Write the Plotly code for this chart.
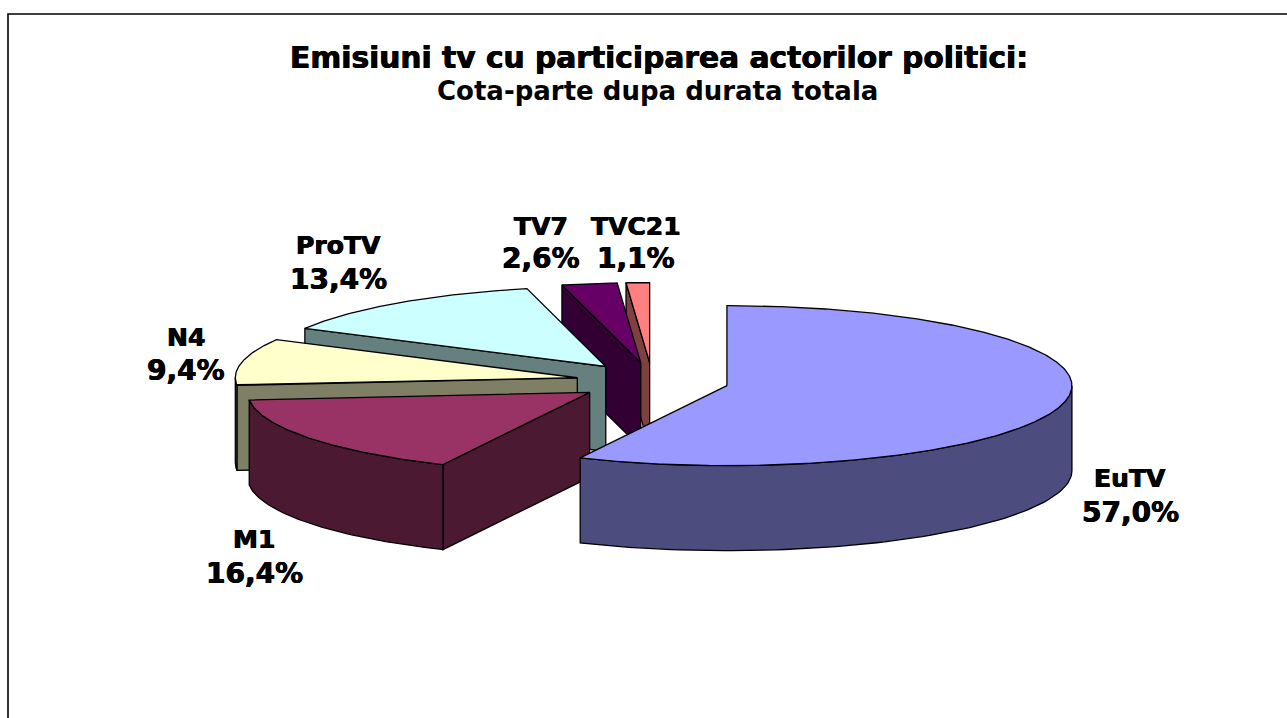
import numpy as np
import plotly.graph_objects as go

# --- data ---
categories = ["EuTV", "M1", "N4", "ProTV", "TV7", "TVC21"]
shares = [57.0, 16.4, 9.4, 13.4, 2.6, 1.1]
title_line = "Emisiuni tv cu participarea actorilor politici:"
subtitle_line = "Cota-parte dupa durata totala"

# --- style / geometry of the 3D pie ---
top_colors = ["#9999FF", "#993366", "#FFFFCC", "#CCFFFF", "#660066", "#FF8080"]
side_colors = ["#4C4C7F", "#4C1933", "#7F7F66", "#667F7F", "#330033", "#7F4040"]
CX, CY = 652.3, 381.5   # pie centre before explosion (page pixels)
RX_RIGHT, RX_LEFT, RY = 345.0, 342.0, 80.0    # ellipse radii
DEPTH = 85.0
EXPLODE_X, EXPLODE_Y = 76.5, 18.9
label_pos = [(1130, 478, 512), (254, 539, 573), (186, 337, 370),
             (338, 245, 279), (541, 226, 258), (636, 226, 258)]

FONT = "DejaVu Sans"
THICK = "0.5px 0 0 black, -0.4px 0 0 black"
fig = go.Figure()


def poly(xs, ys, fill):
    fig.add_trace(go.Scatter(
        x=list(xs), y=list(ys), mode="lines", fill="toself", fillcolor=fill,
        line=dict(color="black", width=1.3), hoverinfo="skip", showlegend=False))


total = sum(shares)
bounds = np.concatenate([[0], np.cumsum(shares)]) / total * 360.0
wedges = []
for i in range(len(shares)):
    a0, a1 = bounds[i], bounds[i + 1]
    mid = np.radians((a0 + a1) / 2)
    wedges.append((i, a0, a1, CX + EXPLODE_X * np.sin(mid), CY - EXPLODE_Y * np.cos(mid)))


def rim(cx, cy, deg):
    r = np.radians(deg)
    s = np.sin(r)
    return cx + np.where(s >= 0, RX_RIGHT, RX_LEFT) * s, cy - RY * np.cos(r)


# paint from the back slices to the front one
for i, a0, a1, cx, cy in reversed(wedges):
    # a radial wall is only seen when its outward normal points at the viewer
    for a, normal in ((a0, a0 - 90), (a1, a1 + 90)):
        if np.cos(np.radians(normal)) < -1e-6:
            ex, ey = rim(cx, cy, a)
            poly([cx, ex, ex, cx, cx], [cy, ey, ey + DEPTH, cy + DEPTH, cy], side_colors[i])
    lo, hi = max(a0, 90), min(a1, 270)
    if hi > lo:
        arc = np.linspace(lo, hi, 80)
        rx_, ry_ = rim(cx, cy, arc)
        poly(np.r_[rx_, rx_[::-1], rx_[0]], np.r_[ry_, ry_[::-1] + DEPTH, ry_[0]], side_colors[i])
    arc = np.linspace(a0, a1, max(int(a1 - a0) * 2, 12))
    rx_, ry_ = rim(cx, cy, arc)
    poly(np.r_[cx, rx_, cx], np.r_[cy, ry_, cy], top_colors[i])

annotations = [
    dict(x=659, y=57, text=f"<b>{title_line}</b>",
         font=dict(size=29.7, family=FONT, color="black", shadow=THICK)),
    dict(x=657, y=91, text=f"<b>{subtitle_line}</b>",
         font=dict(size=26, family=FONT, color="black")),
]
for name, val, (lx, y1, y2) in zip(categories, shares, label_pos):
    pct = f"{val:.1f}".replace(".", ",") + "%"
    for txt, ly, sz in ((name, y1, 25), (pct, y2, 28)):
        annotations.append(dict(x=lx, y=ly, text=f"<b>{txt}</b>",
                                font=dict(size=sz, family=FONT, color="black", shadow=THICK)))
for a in annotations:
    a.update(xref="x", yref="y", showarrow=False, xanchor="center", yanchor="middle")

# chart-area frame (runs off the page to the right and bottom)
fig.add_shape(type="rect", x0=8, y0=14, x1=1400, y1=800, xref="x", yref="y",
              line=dict(color="black", width=1.6), fillcolor="rgba(0,0,0,0)", layer="below")

fig.update_layout(
    width=1287, height=718, margin=dict(l=0, r=0, t=0, b=0),
    paper_bgcolor="white", plot_bgcolor="white", showlegend=False,
    xaxis=dict(range=[0, 1287], visible=False, fixedrange=True),
    yaxis=dict(range=[718, 0], visible=False, fixedrange=True),
    annotations=annotations,
)
fig.write_html("out.html", config={"displayModeBar": False},
               post_script="document.body.style.margin='0';document.body.style.overflow='hidden';")
